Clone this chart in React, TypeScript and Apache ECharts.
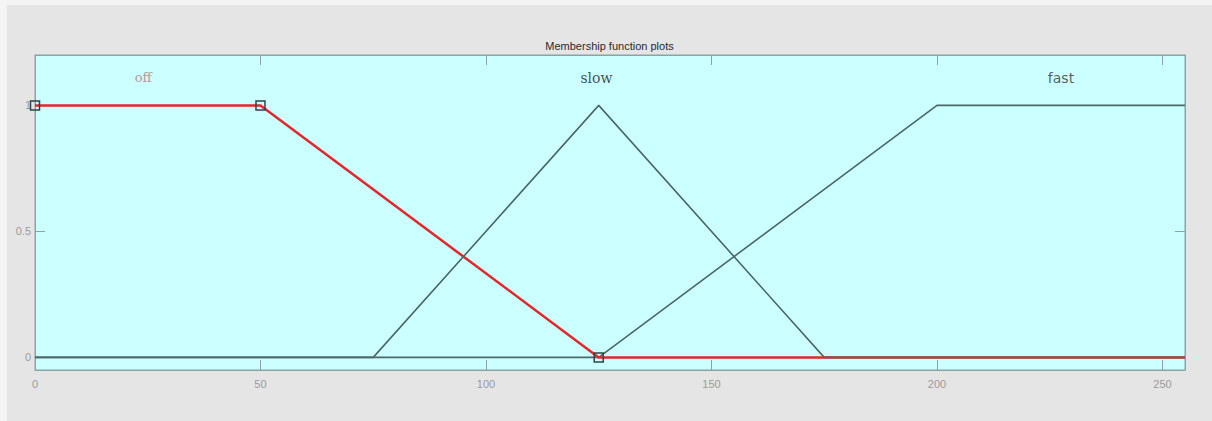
import React, { useEffect, useRef } from "react";
import * as echarts from "echarts";

// Axis ticks
const xTicks = [0, 50, 100, 150, 200, 250];
const yTicks = [0, 0.5, 1];
const xRange = [0, 255];
const yRange = [-0.05, 1.2];

// Membership functions (breakpoints)
const offX = [0, 50, 125, 255];
const offY = [1, 1, 0, 0];
const offMarked = [true, true, true, false];
const slowX = [0, 75, 125, 175, 255];
const slowY = [0, 0, 1, 0, 0];
const fastX = [0, 125, 200, 255];
const fastY = [0, 0, 1, 1];

// MF name labels
const mfNames = ["off", "slow", "fast"];
const labelX = [24, 124.5, 227.5];
const labelY = [1.11, 1.11, 1.11];

const pairs = (xs: number[], ys: number[]) => xs.map((x, i) => [x, ys[i]]);

export default function App() {
  const ref = useRef<HTMLDivElement>(null);
  useEffect(() => {
    if (!ref.current) return;
    const chart = echarts.init(ref.current, undefined, { renderer: "svg" });
    const axisLineColor = "#8aa3a3";
    const labelColor = "#9a9a9a";
    const lineColor = "#4a6868";
    const labelStyles = [
      { color: "#b87a7a", fontFamily: "DejaVu Serif", fontSize: 13 },
      { color: "#222", fontFamily: "DejaVu Serif", fontSize: 14 },
      { color: "#333", fontFamily: "DejaVu Sans", fontSize: 14 },
    ];
    chart.setOption({
      animation: false,
      backgroundColor: "#e5e5e5",
      title: {
        text: "Membership function plots",
        left: "center",
        top: 30,
        textStyle: { fontSize: 11, fontWeight: "normal", color: "#2a2a2a", fontFamily: "Liberation Sans" },
      },
      grid: {
        left: 28,
        right: 27,
        top: 50,
        bottom: 51,
        show: true,
        backgroundColor: "#ccffff",
        borderColor: axisLineColor,
        borderWidth: 1,
      },
      xAxis: [
        {
          type: "value",
          min: xRange[0],
          max: xRange[1],
          position: "bottom",
          axisLine: { show: true, onZero: false, lineStyle: { color: axisLineColor, width: 1 } },
          axisTick: { show: true, inside: true, length: 10, customValues: xTicks, lineStyle: { color: axisLineColor } },
          axisLabel: { customValues: xTicks, color: labelColor, fontSize: 11, margin: 8, fontFamily: "Liberation Sans" },
          splitLine: { show: false },
        },
        {
          type: "value",
          min: xRange[0],
          max: xRange[1],
          position: "top",
          axisLine: { show: true, onZero: false, lineStyle: { color: axisLineColor, width: 1 } },
          axisTick: { show: true, inside: true, length: 10, customValues: xTicks, lineStyle: { color: axisLineColor } },
          axisLabel: { show: false },
          splitLine: { show: false },
        },
      ],
      yAxis: [
        {
          type: "value",
          min: yRange[0],
          max: yRange[1],
          position: "left",
          axisLine: { show: true, onZero: false, lineStyle: { color: axisLineColor, width: 1 } },
          axisTick: { show: true, inside: true, length: 10, customValues: yTicks, lineStyle: { color: axisLineColor } },
          axisLabel: { customValues: yTicks, color: labelColor, fontSize: 11, margin: 4, fontFamily: "Liberation Sans" },
          splitLine: { show: false },
        },
        {
          type: "value",
          min: yRange[0],
          max: yRange[1],
          position: "right",
          axisLine: { show: true, onZero: false, lineStyle: { color: axisLineColor, width: 1 } },
          axisTick: { show: true, inside: true, length: 10, customValues: yTicks, lineStyle: { color: axisLineColor } },
          axisLabel: { show: false },
          splitLine: { show: false },
        },
      ],
      series: [
        {
          name: "fast",
          type: "line",
          data: pairs(fastX, fastY),
          showSymbol: false,
          symbol: "none",
          lineStyle: { color: lineColor, width: 1.6 },
          z: 2,
        },
        {
          name: "off",
          type: "line",
          data: offX.map((x, i) => ({
            value: [x, offY[i]],
            symbol: offMarked[i] ? "rect" : "none",
          })),
          showSymbol: true,
          symbol: "rect",
          symbolSize: 9,
          itemStyle: { color: "rgba(0,0,0,0)", borderColor: "#2a4747", borderWidth: 1.5 },
          lineStyle: { color: "#e5262b", width: 2.5 },
          clip: false,
          z: 3,
        },
        {
          name: "slow",
          type: "line",
          data: pairs(slowX, slowY),
          showSymbol: false,
          symbol: "none",
          lineStyle: { color: lineColor, width: 1.6 },
          z: 4,
        },
        {
          name: "labels",
          type: "scatter",
          symbolSize: 0,
          silent: true,
          data: mfNames.map((n, i) => ({
            name: n,
            value: [labelX[i], labelY[i]],
            label: {
              show: true,
              position: "inside",
              formatter: "{b}",
              ...labelStyles[i],
            },
          })),
          z: 5,
        },
      ],
    });
    return () => chart.dispose();
  }, []);
  return (
    <div style={{ position: "absolute", left: 0, top: 0, width: 1212, height: 421, background: "#f4f4f4" }}>
      <div ref={ref} style={{ position: "absolute", left: 7, top: 5, width: 1205, height: 416 }} />
    </div>
  );
}
